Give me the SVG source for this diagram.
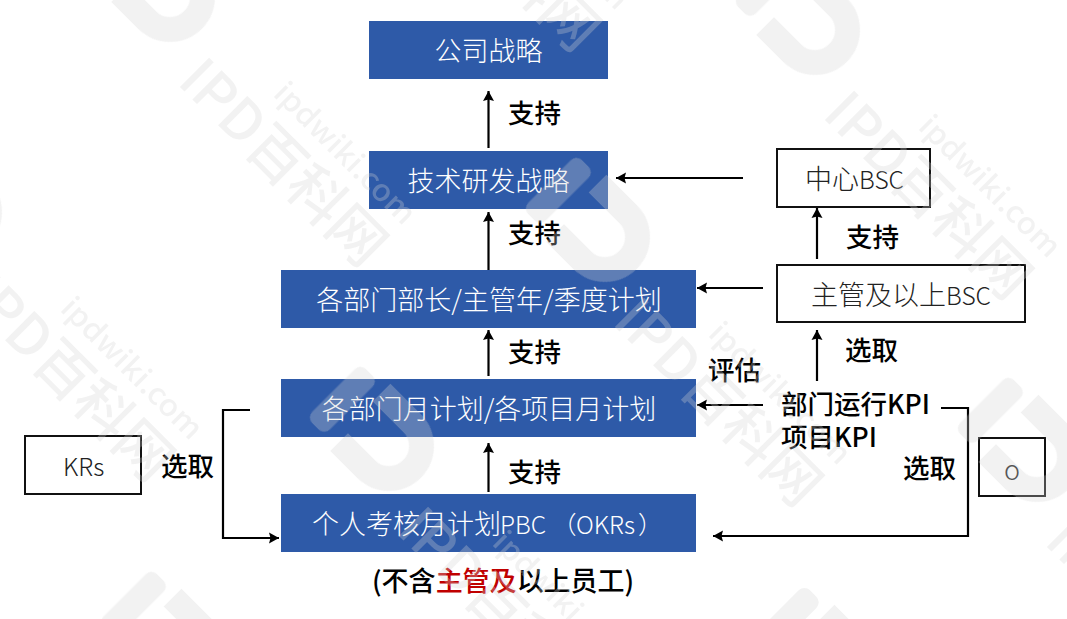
<svg xmlns="http://www.w3.org/2000/svg" xmlns:xlink="http://www.w3.org/1999/xlink" width="1067" height="619" viewBox="0 0 1067 619">
<style>
text{font-family:"Noto Sans CJK SC","Noto Sans",sans-serif}
.blue{fill:#2e5aa8}
.box{fill:#fff;stroke:#111;stroke-width:2}
.t{font-size:27px;font-weight:300;fill:#fff;text-anchor:middle}
.s{text-anchor:start}
.k{font-size:27px;font-weight:300;fill:#222}
.lat{font-size:24.5px}
.l{font-size:26.5px;font-weight:500;fill:#000}
.c{fill:none;stroke:#000;stroke-width:2.2}
.wm{fill:#d4d4d4;font-weight:500}
</style>
<defs>
<marker id="a" markerUnits="userSpaceOnUse" markerWidth="12" markerHeight="12" refX="10" refY="6" orient="auto"><path d="M0,0.5L10,6L0,11.5L1.5,6Z" fill="#000"/></marker>
<g id="tile">
<g transform="translate(-105,-83) rotate(45)">
<path d="M-43,-32.5H0A32.5,32.5 0 0 1 0,32.5H-38" fill="none" stroke="#d4d4d4" stroke-width="25"/>
<rect x="-78.5" y="-38" width="25" height="76" rx="8" fill="#d4d4d4"/>
</g>
<text class="wm" transform="translate(-99,3) rotate(45)" font-size="56" textLength="264" lengthAdjust="spacingAndGlyphs">IPD百科网</text>
<text class="wm" transform="translate(-3,15) rotate(45)" font-size="30" textLength="186" lengthAdjust="spacingAndGlyphs">ipdwiki.com</text>
</g>
</defs>
<rect width="1067" height="619" fill="#fff"/>
<g id="node-company"><rect class="blue" x="369" y="21" width="239" height="58"/><text class="t" x="488.5" y="61">公司战略</text></g>
<g id="node-tech"><rect class="blue" x="369" y="151" width="239" height="58"/><text class="t" x="488.5" y="191">技术研发战略</text></g>
<g id="node-dept-head"><rect class="blue" x="281" y="270" width="415" height="58"/><text class="t" x="489" y="310">各部门部长/主管年/季度计划</text></g>
<g id="node-dept-month"><rect class="blue" x="281" y="379" width="415" height="58"/><text class="t" x="489" y="419">各部门月计划/各项目月计划</text></g>
<g id="node-pbc"><rect class="blue" x="281" y="494" width="415" height="58"/><text class="t s" x="312" y="534">个人考核月计划<tspan class="lat" x="500">PBC</tspan><tspan class="lat" x="552">（</tspan><tspan class="lat" x="576">OKRs</tspan><tspan class="lat" x="638">）</tspan></text></g>
<g id="node-center-bsc"><rect class="box" x="777" y="149" width="153" height="58"/><text class="k" x="805" y="189">中心<tspan class="lat">BSC</tspan></text></g>
<g id="node-manager-bsc"><rect class="box" x="777" y="265" width="248" height="57"/><text class="k" x="811" y="305">主管及以上<tspan class="lat">BSC</tspan></text></g>
<g id="node-krs"><rect class="box" x="25" y="436" width="116" height="58"/><text class="k lat" x="63" y="476">KRs</text></g>
<g id="node-o"><rect class="box" x="979" y="438" width="66" height="58"/><text class="k" x="1004" y="480">o</text></g>
<g id="connectors">
<path class="c" marker-end="url(#a)" d="M488.5,148V91"/>
<path class="c" marker-end="url(#a)" d="M488.5,270V212"/>
<path class="c" marker-end="url(#a)" d="M488.5,376V330"/>
<path class="c" marker-end="url(#a)" d="M488.5,492V443"/>
<path class="c" marker-end="url(#a)" d="M743,178H616"/>
<path class="c" marker-end="url(#a)" d="M763,288H697"/>
<path class="c" marker-end="url(#a)" d="M763,405H697"/>
<path class="c" marker-end="url(#a)" d="M817,259V208"/>
<path class="c" marker-end="url(#a)" d="M817,381V330"/>
<path class="c" marker-end="url(#a)" d="M941,408H968V536H713"/>
<path class="c" marker-end="url(#a)" d="M250,410H223V538H279"/>
</g>
<g id="labels">
<text class="l" x="508" y="123">支持</text>
<text class="l" x="508" y="243">支持</text>
<text class="l" x="508" y="362">支持</text>
<text class="l" x="508" y="482">支持</text>
<text class="l" x="846" y="247">支持</text>
<text class="l" x="845" y="360">选取</text>
<text class="l" x="708" y="380">评估</text>
<text class="l" y="414"><tspan x="781">部门运行KPI</tspan><tspan x="781" y="447">项目KPI</tspan></text>
<text class="l" x="903" y="478">选取</text>
<text class="l" x="161" y="476">选取</text>
<text class="l" x="372" y="591" style="font-size:27px">(不含<tspan fill="#c00000">主管及</tspan>以上员工)</text>
</g>
<g id="watermark" opacity="0.3">
<use href="#tile" x="275" y="80"/>
<use href="#tile" x="62" y="295"/>
<use href="#tile" x="710" y="320"/>
<use href="#tile" x="494" y="529"/>
<use href="#tile" x="920" y="113"/>
<use href="#tile" x="488" y="-135"/>
<use href="#tile" x="285" y="734"/>
<use href="#tile" x="938" y="750"/>
<use href="#tile" x="1142" y="540"/>
</g>
</svg>
